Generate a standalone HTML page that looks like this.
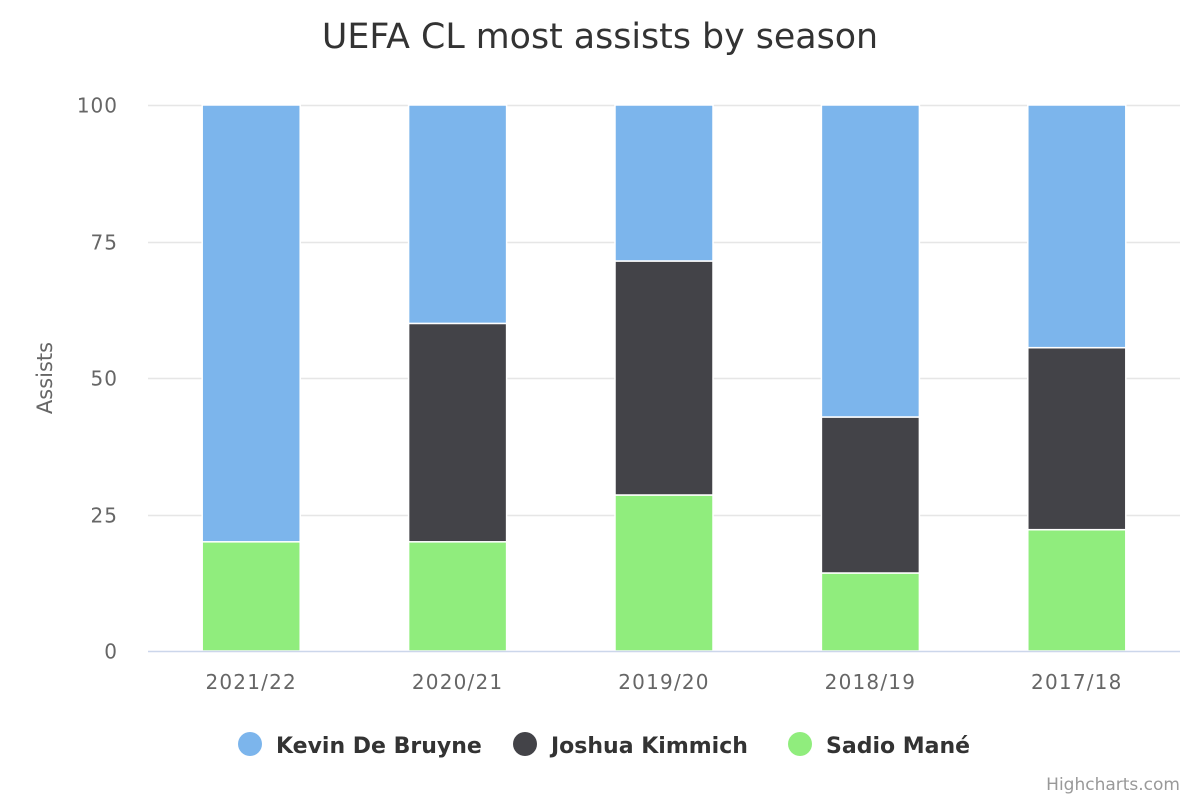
<!DOCTYPE html>
<html><head><meta charset="utf-8"><style>
body{margin:0;background:#fff;}
svg text{font-family:"DejaVu Sans","Liberation Sans",sans-serif;}
</style></head><body>
<svg id="chart" width="1200" height="800" xmlns="http://www.w3.org/2000/svg">
<rect width="1200" height="800" fill="#fff"/>
<text x="600" y="48" text-anchor="middle" font-size="34.8" fill="#333">UEFA CL most assists by season</text>
<text transform="translate(52,378) rotate(-90)" text-anchor="middle" font-size="21" fill="#666">Assists</text>
<g id="grid"></g><g id="bars"></g><g id="xlabels"></g>
<line x1="148" x2="1180" y1="651.5" y2="651.5" stroke="#ccd6eb" stroke-width="1.5"/>
<g>
<g><circle cx="250" cy="744" r="12" fill="#7cb5ec"/><text x="276" y="753" font-size="22" font-weight="bold" fill="#333">Kevin De Bruyne</text></g>
<g><circle cx="525" cy="744" r="12" fill="#434348"/><text x="551" y="753" font-size="22" font-weight="bold" fill="#333">Joshua Kimmich</text></g>
<g><circle cx="800" cy="744" r="12" fill="#90ed7d"/><text x="826" y="753" font-size="22" font-weight="bold" fill="#333">Sadio Mané</text></g>
</g>
<text x="1180" y="790" text-anchor="end" font-size="17" fill="#999">Highcharts.com</text>
</svg>
<script>
const categories=["2021/22","2020/21","2019/20","2018/19","2017/18"];
const kdb=[4,2,2,4,4];
const kimmich=[0,2,3,2,3];
const mane=[1,1,2,1,2];
const yTicks=[0,25,50,75,100];
const NS="http://www.w3.org/2000/svg";
const x0=148,x1=1180,yBase=651,yTop=105;
const yScale=v=>yBase-(v/100)*(yBase-yTop);
const slot=(x1-x0)/categories.length;
const xCenter=i=>x0+slot*(i+0.5);
const bw=98;
function mk(tag,attrs,parent){const e=document.createElementNS(NS,tag);for(const k in attrs)e.setAttribute(k,attrs[k]);parent.appendChild(e);return e;}
const grid=document.getElementById('grid');
yTicks.forEach(t=>{
  const y=Math.round(yScale(t))+0.5;
  if(t>0){const l=mk('line',{x1:x0,x2:x1,y1:y,y2:y,stroke:'#e6e6e6','stroke-width':1.5},grid);
  
  }
  const tx=mk('text',{x:118,y:y+7,'text-anchor':'end','font-size':20,fill:'#666','letter-spacing':1},grid);
  tx.textContent=t;
  
  
});
const bars=document.getElementById('bars');
const series=[["sadio-mane",mane,"#90ed7d"],["joshua-kimmich",kimmich,"#434348"],["kevin-de-bruyne",kdb,"#7cb5ec"]];
categories.forEach((c,i)=>{
  const total=kdb[i]+kimmich[i]+mane[i];
  let acc=0;
  series.forEach(([n,arr,col])=>{
    const p=arr[i]/total*100;
    if(p<=0)return;
    const yb=yScale(acc),yt=yScale(acc+p);acc+=p;
    const r=mk('rect',{x:xCenter(i)-bw/2,y:yt,width:bw,height:yb-yt,fill:col,stroke:'#fff','stroke-width':1.5},bars);
    
    
  });
  const tx=mk('text',{x:xCenter(i),y:689,'text-anchor':'middle','font-size':20,fill:'#666','letter-spacing':1.2},document.getElementById('xlabels'));
  tx.textContent=c;
  
  
});
</script>
</body></html>
